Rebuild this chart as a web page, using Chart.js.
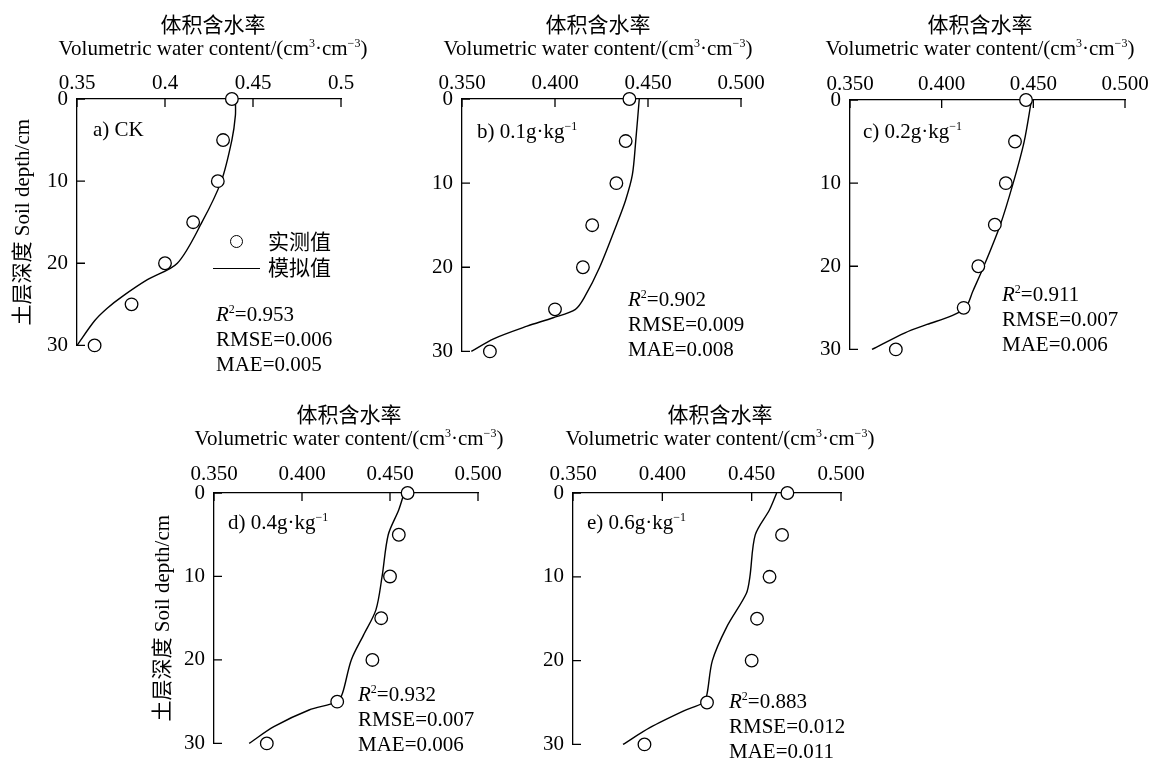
<!DOCTYPE html>
<html>
<head>
<meta charset="utf-8">
<script src="https://cdn.jsdelivr.net/npm/chart.js"></script>
<style>
  body { margin: 0; background: #fff; width: 1157px; height: 763px; position: relative; overflow: hidden;
         font-family: "Liberation Serif", "Noto Sans CJK SC", serif; color: #000; }
  canvas { position: absolute; }
  .note { position: absolute; font-size: 21px; line-height: 25px; white-space: nowrap; }
  .note sup { font-size: 12px; line-height: 0; vertical-align: 0; position: relative; top: -8px; }
  .ctr { transform: translateX(-50%); text-align: center; }
  .cjk { font-family: "Noto Sans CJK SC", sans-serif; }
  .mark-circle { position: absolute; width: 13px; height: 13px; box-sizing: border-box; border: 1.3px solid #000; border-radius: 50%; background: #fff; }
  .mark-line { position: absolute; height: 0; border-top: 1.4px solid #000; }
</style>
</head>
<body>
<script>
// 实测值 depth (cm)
const depthObs = [0, 5, 10, 15, 20, 25, 30];

// observed volumetric water content, panels a-e
const obsA = [0.438, 0.433, 0.430, 0.416, 0.400, 0.381, 0.360];
const obsB = [0.440, 0.438, 0.433, 0.420, 0.415, 0.400, 0.365];
const obsC = [0.446, 0.440, 0.435, 0.429, 0.420, 0.412, 0.375];
const obsD = [0.460, 0.455, 0.450, 0.445, 0.440, 0.420, 0.380];
const obsE = [0.470, 0.467, 0.460, 0.453, 0.450, 0.425, 0.390];

// simulated profiles (模拟值)
const simDepthA = [0, 2, 5, 10, 15, 20, 22, 24, 25.5, 27, 30];
const simA = [0.440, 0.440, 0.438, 0.432, 0.421, 0.407, 0.390, 0.376, 0.367, 0.360, 0.350];
const simDepthB = [0, 5, 9, 12, 15, 20, 23.5, 25, 26, 27, 28.5, 30];
const simB = [0.4453, 0.4434, 0.4416, 0.438, 0.433, 0.424, 0.416, 0.411, 0.399, 0.385, 0.367, 0.355];
const simDepthC = [0, 5, 10, 15, 20, 23, 25, 26, 27, 28, 30];
const simC = [0.449, 0.445, 0.439, 0.432, 0.423, 0.417, 0.413, 0.405, 0.392, 0.380, 0.362];
const simDepthD = [0, 2, 5, 10, 14, 17, 20, 24, 25, 26, 28, 30];
const simD = [0.458, 0.455, 0.449, 0.4455, 0.442, 0.435, 0.428, 0.423, 0.420, 0.404, 0.384, 0.370];
const simDepthE = [0, 2, 5, 10, 12, 16, 20, 24, 25, 26, 28, 30];
const simE = [0.464, 0.460, 0.452, 0.449, 0.447, 0.436, 0.428, 0.425, 0.423, 0.412, 0.393, 0.378];

const xTickValues = [0.35, 0.4, 0.45, 0.5];
const xTickLabelsA = ['0.35', '0.4', '0.45', '0.5'];
const xTickLabels = ['0.350', '0.400', '0.450', '0.500'];
const yTickValues = [0, 10, 20, 30];

const xTitleCn = '体积含水率';
const xTitleEn = 'Volumetric water content/(cm<sup>3</sup>·cm<sup>−3</sup>)';
const yTitle = '土层深度 Soil depth/cm';
const legendLabels = ['实测值', '模拟值'];
const panelNames = ['a) CK', 'b) 0.1g·kg<sup>−1</sup>', 'c) 0.2g·kg<sup>−1</sup>', 'd) 0.4g·kg<sup>−1</sup>', 'e) 0.6g·kg<sup>−1</sup>'];
const r2Values = ['0.953', '0.902', '0.911', '0.932', '0.883'];
const rmseValues = ['0.006', '0.009', '0.007', '0.007', '0.012'];
const maeValues = ['0.005', '0.008', '0.006', '0.006', '0.011'];

const FONT = '"Liberation Serif", "Noto Sans CJK SC", serif';

// tick marks point into the plot
const inwardTicks = {
  id: 'inwardTicks',
  beforeDatasetsDraw(chart) {
    const { ctx, chartArea, scales: { x, y } } = chart;
    ctx.save();
    ctx.strokeStyle = '#000';
    ctx.lineWidth = 1.3;
    ctx.beginPath();
    x.ticks.forEach(t => {
      const px = x.getPixelForValue(t.value);
      ctx.moveTo(px, chartArea.top);
      ctx.lineTo(px, chartArea.top + 8);
    });
    y.ticks.forEach(t => {
      const py = y.getPixelForValue(t.value);
      ctx.moveTo(chartArea.left, py);
      ctx.lineTo(chartArea.left + 8, py);
    });
    ctx.stroke();
    ctx.restore();
  }
};

function addNote(html, left, top, cls) {
  const d = document.createElement('div');
  d.className = 'note' + (cls ? ' ' + cls : '');
  d.style.left = left + 'px';
  d.style.top = top + 'px';
  d.innerHTML = html;
  document.body.appendChild(d);
  return d;
}

function makePanel(box, obs, simDepth, sim, tickLabels, showYTitle) {
  const [l, t, r, b] = box.area;
  const w = box.yW + (r - l) + 30;
  const h = box.xH + (b - t) + 15;
  const canvas = document.createElement('canvas');
  canvas.width = w;
  canvas.height = h;
  canvas.style.left = (l - box.yW) + 'px';
  canvas.style.top = (t - box.xH) + 'px';
  canvas.style.width = w + 'px';
  canvas.style.height = h + 'px';
  document.body.appendChild(canvas);

  // x axis title, two lines (html so it is not squeezed to the axis width)
  addNote(xTitleCn, box.titleX, box.titleY - 25, 'ctr cjk');
  addNote(xTitleEn, box.titleX, box.titleY, 'ctr');

  return new Chart(canvas, {
    type: 'scatter',
    data: {
      datasets: [
        {
          label: legendLabels[1],
          data: simDepth.map((d, i) => ({ x: sim[i], y: d })),
          showLine: true,
          borderColor: '#000',
          borderWidth: 1.4,
          pointRadius: 0,
          tension: 0.3,
          clip: false,
          order: 2
        },
        {
          label: legendLabels[0],
          data: depthObs.map((d, i) => ({ x: obs[i], y: d })),
          pointRadius: 6.3,
          pointBorderWidth: 1.3,
          borderColor: '#000',
          backgroundColor: '#fff',
          clip: false,
          order: 1
        }
      ]
    },
    options: {
      responsive: false,
      animation: false,
      devicePixelRatio: 1,
      layout: { padding: { left: 0, top: 0, right: 30, bottom: 15 } },
      plugins: { legend: { display: false }, tooltip: { enabled: false } },
      scales: {
        x: {
          type: 'linear',
          position: 'top',
          min: 0.35,
          max: 0.5,
          afterBuildTicks: s => { s.ticks = xTickValues.map(v => ({ value: v })); },
          afterFit: s => { s.height = box.xH; },
          grid: { display: false, drawTicks: false },
          border: { display: true, color: '#000', width: 1.3 },
          ticks: {
            padding: box.tickPad,
            color: '#000',
            autoSkip: false,
            maxRotation: 0,
            font: { family: FONT, size: 21 },
            callback: (v, i) => tickLabels[i]
          },
          title: { display: false }
        },
        y: {
          type: 'linear',
          reverse: true,
          min: 0,
          max: 30,
          afterBuildTicks: s => { s.ticks = yTickValues.map(v => ({ value: v })); },
          afterFit: s => { s.width = box.yW; },
          grid: { display: false, drawTicks: false },
          border: { display: true, color: '#000', width: 1.3 },
          ticks: {
            padding: 9,
            color: '#000',
            font: { family: FONT, size: 21 }
          },
          title: {
            display: showYTitle,
            text: yTitle,
            color: '#000',
            font: { family: FONT, size: 21, lineHeight: 1.25 },
            padding: { top: 0, bottom: 0 }
          }
        }
      }
    },
    plugins: [inwardTicks]
  });
}

// chart areas [left, top, right, bottom] in page pixels
makePanel({ area: [77, 99, 341, 352], yW: 67, xH: 88, tickPad: 3, titleX: 213, titleY: 35.5 }, obsA, simDepthA, simA, xTickLabelsA, true);
makePanel({ area: [462, 99, 741, 358], yW: 45, xH: 88, tickPad: 3, titleX: 598, titleY: 35.5 }, obsB, simDepthB, simB, xTickLabels, false);
makePanel({ area: [850, 100, 1125, 356], yW: 45, xH: 89, tickPad: 3, titleX: 980, titleY: 35.5 }, obsC, simDepthC, simC, xTickLabels, false);
makePanel({ area: [214, 493, 478, 750], yW: 64, xH: 92, tickPad: 6, titleX: 349, titleY: 426 }, obsD, simDepthD, simD, xTickLabels, true);
makePanel({ area: [573, 493, 841, 751], yW: 45, xH: 92, tickPad: 6, titleX: 720, titleY: 426 }, obsE, simDepthE, simE, xTickLabels, false);

// panel labels
const labelPos = [[93, 117], [477, 119], [863, 119], [228, 510], [587, 510]];
labelPos.forEach((p, i) => addNote(panelNames[i], p[0], p[1]));

// fit statistics
const statPos = [[216, 302], [628, 287], [1002, 282], [358, 682], [729, 689]];
statPos.forEach((p, i) => {
  addNote('<i>R</i><sup>2</sup>=' + r2Values[i] + '<br>RMSE=' + rmseValues[i] + '<br>MAE=' + maeValues[i], p[0], p[1]);
});

// legend (panel a)
const circ = document.createElement('div');
circ.className = 'mark-circle';
circ.style.left = '230px';
circ.style.top = '235px';
document.body.appendChild(circ);
const ln = document.createElement('div');
ln.className = 'mark-line';
ln.style.left = '213px';
ln.style.top = '268px';
ln.style.width = '47px';
document.body.appendChild(ln);
addNote(legendLabels[0], 268, 228, 'cjk');
addNote(legendLabels[1], 268, 254, 'cjk');
</script>
</body>
</html>
